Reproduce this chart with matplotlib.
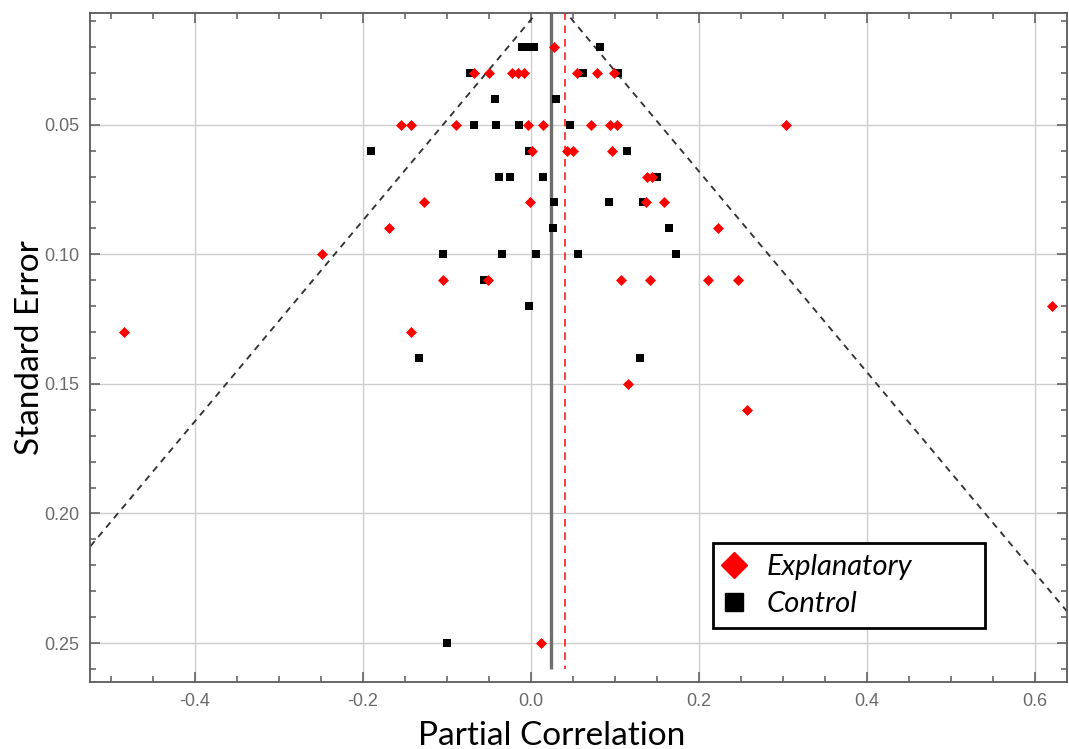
import matplotlib
matplotlib.use("Agg")
import matplotlib.pyplot as plt
from matplotlib.lines import Line2D
from matplotlib.ticker import MultipleLocator, FormatStrFormatter
import numpy as np

plt.rcParams["axes.unicode_minus"] = False

# ── Data ────────────────────────────────────────────────────────────────────────

EXPL_X = [0.028,
          -0.068, -0.050, -0.022, -0.015, -0.008, 0.055, 0.079, 0.0995,
          -0.155, -0.142, -0.089, -0.003, 0.014, 0.072, 0.094, 0.103, 0.304,
          0.002, 0.043, 0.050, 0.097,
          0.138, 0.144,
          -0.127, -0.001, 0.137, 0.158,
          -0.169, 0.223,
          -0.249,
          -0.104, -0.051, 0.107, 0.142, 0.211, 0.247,
          0.620,
          -0.484, -0.143,
          0.116,
          0.257,
          0.012]
EXPL_SE = [0.02,
           0.03, 0.03, 0.03, 0.03, 0.03, 0.03, 0.03, 0.03,
           0.05, 0.05, 0.05, 0.05, 0.05, 0.05, 0.05, 0.05, 0.05,
           0.06, 0.06, 0.06, 0.06,
           0.07, 0.07,
           0.08, 0.08, 0.08, 0.08,
           0.09, 0.09,
           0.10,
           0.11, 0.11, 0.11, 0.11, 0.11, 0.11,
           0.12,
           0.13, 0.13,
           0.15,
           0.16,
           0.25]

CTRL_X = [-0.010, -0.003, 0.004, 0.082,
          -0.072, 0.062, 0.104,
          -0.043, 0.030,
          -0.068, -0.041, -0.014, 0.047,
          -0.190, -0.002, 0.115,
          -0.038, -0.025, 0.015, 0.150,
          0.028, 0.093, 0.134,
          0.026, 0.164,
          -0.105, -0.034, 0.006, 0.056, 0.173,
          -0.056,
          -0.002,
          -0.133, 0.130,
          -0.100]
CTRL_SE = [0.02, 0.02, 0.02, 0.02,
           0.03, 0.03, 0.03,
           0.04, 0.04,
           0.05, 0.05, 0.05, 0.05,
           0.06, 0.06, 0.06,
           0.07, 0.07, 0.07, 0.07,
           0.08, 0.08, 0.08,
           0.09, 0.09,
           0.10, 0.10, 0.10, 0.10, 0.10,
           0.11,
           0.12,
           0.14, 0.14,
           0.25]

POOLED_ALL = 0.0246      # solid grey line, centre of funnel
POOLED_EXPL = 0.0405     # red dashed line
Z_99 = 2.58              # funnel half-width multiplier
LINE_SE_MAX = 0.26
FUNNEL_SE = [0.0, 0.30]

# ── Figure ──────────────────────────────────────────────────────────────────────

fig = plt.figure(figsize=(10.69, 7.49), dpi=100)
ax = fig.add_axes([0.0842, 0.0895, 0.9139, 0.8932])

ax.set_xlim(-0.5245, 0.638)
ax.set_ylim(0.265, 0.0069)

ax.grid(True, color="#cdcdcd", linewidth=1.0)
ax.set_axisbelow(True)

# funnel
se_f = np.array(FUNNEL_SE)
for sign in (-1, 1):
    ax.plot(POOLED_ALL + sign * Z_99 * se_f, se_f, color="#333333", lw=1.35,
            linestyle=(0, (3.5, 3)), zorder=2)

ax.vlines(POOLED_ALL, 0, LINE_SE_MAX, color="#6e6e6e", lw=2.4, zorder=2)
ax.vlines(POOLED_EXPL, 0, LINE_SE_MAX, color="#ff1a1a", lw=1.2,
          linestyles=[(0, (4.5, 3.5))], zorder=2)

ax.scatter(CTRL_X, CTRL_SE, marker="s", s=5.2 ** 2, color="black",
           linewidths=0, zorder=3)
ax.scatter(EXPL_X, EXPL_SE, marker="D", s=5.6 ** 2, color="#ff0000",
           linewidths=0, zorder=4)

# frame & ticks
for sp in ax.spines.values():
    sp.set_color("#5a5a5a")
    sp.set_linewidth(1.3)
ax.xaxis.set_major_locator(MultipleLocator(0.2))
ax.xaxis.set_minor_locator(MultipleLocator(0.05))
ax.yaxis.set_major_locator(MultipleLocator(0.05))
ax.yaxis.set_minor_locator(MultipleLocator(0.01))
ax.xaxis.set_major_formatter(FormatStrFormatter("%.1f"))
ax.yaxis.set_major_formatter(FormatStrFormatter("%.2f"))
ax.tick_params(which="both", direction="in", top=True, right=True,
               color="#5a5a5a", width=1.1)
ax.tick_params(which="major", length=7, labelsize=13, labelcolor="#6b6b6b",
               pad=8)
ax.tick_params(which="minor", length=4.5)
for lab in ax.get_xticklabels() + ax.get_yticklabels():
    lab.set_fontfamily("Liberation Sans")

ax.set_xlabel("Partial Correlation", fontsize=24, family="Lato")
ax.set_ylabel("Standard Error", fontsize=24, family="Lato")
ax.xaxis.set_label_coords(0.473, -0.058)
ax.yaxis.set_label_coords(-0.046, 0.5)

handles = [Line2D([], [], marker="D", ls="none", color="#ff0000", ms=13),
           Line2D([], [], marker="s", ls="none", color="black", ms=13)]
leg = ax.legend(handles, ["Explanatory", "Control"],
                loc="upper left", bbox_to_anchor=(0.6377, 0.2078, 0.2784, 0.0),
                mode="expand",
                prop={"family": "Lato", "style": "italic", "size": 21},
                fancybox=False, framealpha=1, edgecolor="black",
                handlelength=0.7, handletextpad=0.75, labelspacing=0.38,
                borderpad=0.38, borderaxespad=0)
leg.get_frame().set_linewidth(2.0)

fig.savefig("out.png", dpi=100)
